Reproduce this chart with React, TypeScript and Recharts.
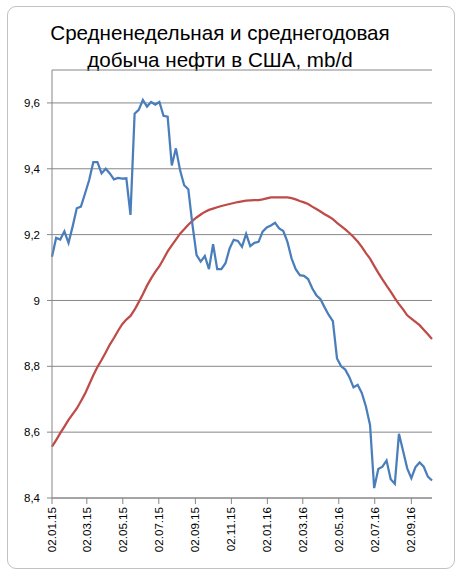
import { LineChart, Line, XAxis, YAxis, CartesianGrid } from 'recharts'

// weekly EIA production, mb/d, first week 02.01.15
const START_DATE = '02.01.15'
const WEEKLY = [
  9.133, 9.19, 9.185, 9.21, 9.175, 9.225, 9.28, 9.285, 9.325, 9.366,
  9.42, 9.42, 9.386, 9.4, 9.386, 9.368, 9.372, 9.37, 9.371, 9.26,
  9.567, 9.579, 9.609, 9.589, 9.603, 9.595, 9.603, 9.561, 9.558, 9.41,
  9.462, 9.396, 9.35, 9.338, 9.23, 9.138, 9.118, 9.135, 9.095, 9.171,
  9.095, 9.095, 9.113, 9.158, 9.184, 9.181, 9.163, 9.202, 9.165, 9.175,
  9.178, 9.209, 9.222, 9.228, 9.236, 9.219, 9.211, 9.178, 9.128, 9.095,
  9.077, 9.075, 9.065, 9.037, 9.016, 9.004, 8.979, 8.956, 8.937, 8.824,
  8.8, 8.79, 8.767, 8.736, 8.744, 8.719, 8.678, 8.622, 8.43, 8.488,
  8.495, 8.514, 8.457, 8.443, 8.595, 8.543, 8.49, 8.46, 8.494, 8.508,
  8.495, 8.465, 8.453,
]

// 12-month average
const YEARLY = [
  8.556, 8.576, 8.597, 8.617, 8.637, 8.655, 8.672, 8.694, 8.717, 8.745,
  8.773, 8.798, 8.819, 8.842, 8.866, 8.886, 8.908, 8.928, 8.942, 8.953,
  8.972, 8.995, 9.019, 9.045, 9.067, 9.087, 9.104, 9.126, 9.149, 9.167,
  9.185, 9.203, 9.216, 9.23, 9.242, 9.252, 9.261, 9.269, 9.275, 9.279,
  9.283, 9.287, 9.29, 9.293, 9.296, 9.299, 9.301, 9.303, 9.304, 9.305,
  9.305, 9.307, 9.31, 9.313, 9.313, 9.313, 9.313, 9.313, 9.311, 9.307,
  9.302, 9.298, 9.293, 9.285, 9.278, 9.27, 9.262, 9.255, 9.247, 9.236,
  9.226, 9.216, 9.205, 9.193, 9.179, 9.163, 9.144, 9.127, 9.105, 9.084,
  9.064, 9.045, 9.027, 9.007, 8.989, 8.973, 8.955, 8.945, 8.935, 8.925,
  8.911, 8.897, 8.883,
]

const X_TICKS = [
  '02.01.15', '02.03.15', '02.05.15', '02.07.15', '02.09.15', '02.11.15',
  '02.01.16', '02.03.16', '02.05.16', '02.07.16', '02.09.16',
]
const Y_TICKS = [8.4, 8.6, 8.8, 9, 9.2, 9.4, 9.6]
const TITLE = ['Средненедельная и среднегодовая', 'добыча нефти в США, mb/d']

const DAY = 86400000

function parseDate(s: string) {
  const [d, m, y] = s.split('.').map(Number)
  return Date.UTC(2000 + y, m - 1, d)
}

function fmtDate(t: number) {
  const d = new Date(t)
  const p = (n: number) => String(n).padStart(2, '0')
  return `${p(d.getUTCDate())}.${p(d.getUTCMonth() + 1)}.${p(d.getUTCFullYear() % 100)}`
}

const t0 = parseDate(START_DATE)
const data = WEEKLY.map((w, i) => ({ t: t0 + i * 7 * DAY, weekly: w, yearly: YEARLY[i] }))
const tickTimes = X_TICKS.map(parseDate)

const AXIS = '#868686'
const FONT = '"Liberation Sans", Arial, sans-serif'

function DateTick({ x, y, payload }: any) {
  return (
    <g transform={`translate(${x},${y + 1})`}>
      <text x={0} y={0} dy={4} textAnchor="end" transform="rotate(-90)" fontSize={11.6} fill="#000" fontFamily={FONT}>
        {fmtDate(payload.value)}
      </text>
    </g>
  )
}

export default function App() {
  return (
    <div style={{ position: 'absolute', left: 0, top: 0, width: 463, height: 576, background: '#fff' }}>
      {/* chart frame */}
      <div style={{
        position: 'absolute', left: 7, top: 6, width: 448, height: 563,
        border: '1px solid #c2c2c2', borderRadius: 9, boxSizing: 'border-box',
      }} />

      <svg width={463} height={80} style={{ position: 'absolute', left: 0, top: 0 }}>
        <text x={220} y={39.5} textAnchor="middle" fontSize={20.6} fontFamily={FONT} fill="#000">{TITLE[0]}</text>
        <text x={220} y={66.5} textAnchor="middle" fontSize={20.6} fontFamily={FONT} fill="#000">{TITLE[1]}</text>
      </svg>

      <div style={{ position: 'absolute', left: 0, top: 0 }}>
        <LineChart width={463} height={576} data={data} margin={{ top: 70, right: 31, bottom: 0, left: 0 }}>
          <CartesianGrid vertical={false} stroke={AXIS} strokeWidth={1} />
          <XAxis
            dataKey="t"
            type="number"
            domain={[data[0].t, data[data.length - 1].t]}
            ticks={tickTimes}
            interval={0}
            height={78}
            tickSize={6}
            tickLine={{ stroke: AXIS }}
            axisLine={{ stroke: AXIS }}
            tick={DateTick}
          />
          <YAxis
            type="number"
            domain={[8.4, 9.7]}
            ticks={Y_TICKS}
            interval={0}
            width={52}
            tickSize={5}
            tickMargin={7}
            tickLine={{ stroke: AXIS }}
            axisLine={{ stroke: AXIS }}
            tick={{ fontSize: 11.5, fill: '#000', fontFamily: FONT }}
            tickFormatter={(v: number) => (Number.isInteger(v) ? String(v) : v.toFixed(1).replace('.', ','))}
          />
          <Line dataKey="yearly" type="linear" stroke="#be4b48" strokeWidth={2.25} dot={false} isAnimationActive={false} />
          <Line dataKey="weekly" type="linear" stroke="#4a7ebb" strokeWidth={2.25} dot={false} isAnimationActive={false} />
        </LineChart>
      </div>
    </div>
  )
}
